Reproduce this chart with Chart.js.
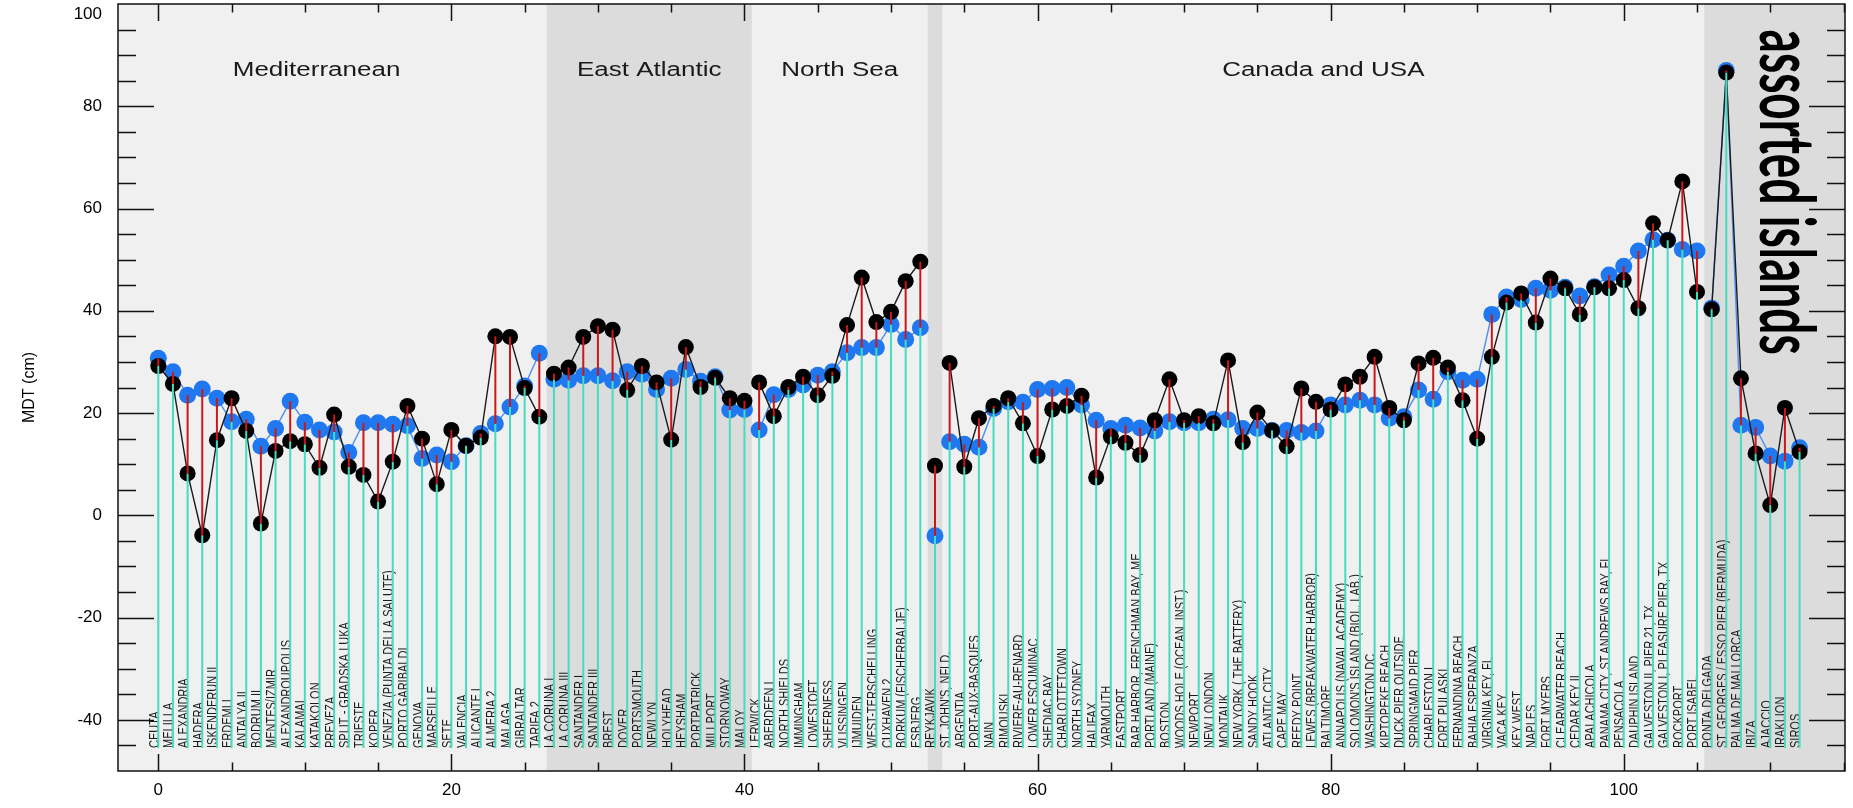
<!DOCTYPE html>
<html>
<head>
<meta charset="utf-8">
<script src="https://cdn.jsdelivr.net/npm/chart.js@4"></script>
<style>
  html, body { margin: 0; padding: 0; background: #ffffff; }
  canvas { display: block; }
</style>
</head>
<body>
<canvas id="mdt" width="1853" height="808"></canvas>
<script>
// Tide gauge stations, in plotting order (index = x value)
const stations = [
  'CEUTA', 'MELILLA', 'ALEXANDRIA', 'HADERA', 'ISKENDERUN II', 'ERDEMLI', 'ANTALYA II', 'BODRUM II',
  'MENTES/IZMIR', 'ALEXANDROUPOLIS', 'KALAMAI', 'KATAKOLON', 'PREVEZA', 'SPLIT - GRADSKA LUKA', 'TRIESTE',
  'KOPER', 'VENEZIA (PUNTA DELLA SALUTE)', 'PORTO GARIBALDI', 'GENOVA', 'MARSEILLE', 'SETE', 'VALENCIA',
  'ALICANTE I', 'ALMERIA 2', 'MALAGA', 'GIBRALTAR', 'TARIFA 2',
  'LA CORUNA I', 'LA CORUNA III', 'SANTANDER I', 'SANTANDER III', 'BREST', 'DOVER', 'PORTSMOUTH', 'NEWLYN',
  'HOLYHEAD', 'HEYSHAM', 'PORTPATRICK', 'MILLPORT', 'STORNOWAY', 'MALOY',
  'LERWICK', 'ABERDEEN I', 'NORTH SHIELDS', 'IMMINGHAM', 'LOWESTOFT', 'SHEERNESS', 'VLISSINGEN', 'IJMUIDEN',
  'WEST-TERSCHELLING', 'CUXHAVEN 2', 'BORKUM (FISCHERBALJE)', 'ESBJERG',
  'REYKJAVIK',
  "ST. JOHN'S, NFLD.", 'ARGENTIA', 'PORT-AUX-BASQUES', 'NAIN', 'RIMOUSKI', 'RIVIERE-AU-RENARD', 'LOWER ESCUMINAC',
  'SHEDIAC BAY', 'CHARLOTTETOWN', 'NORTH SYDNEY', 'HALIFAX', 'YARMOUTH', 'EASTPORT',
  'BAR HARBOR, FRENCHMAN BAY, ME', 'PORTLAND (MAINE)', 'BOSTON', 'WOODS HOLE (OCEAN. INST.)', 'NEWPORT',
  'NEW LONDON', 'MONTAUK', 'NEW YORK ( THE BATTERY)', 'SANDY HOOK', 'ATLANTIC CITY', 'CAPE MAY', 'REEDY POINT',
  'LEWES (BREAKWATER HARBOR)', 'BALTIMORE', 'ANNAPOLIS (NAVAL ACADEMY)', "SOLOMON'S ISLAND (BIOL. LAB.)",
  'WASHINGTON DC', 'KIPTOPEKE BEACH', 'DUCK PIER OUTSIDE', 'SPRINGMAID PIER', 'CHARLESTON I', 'FORT PULASKI',
  'FERNANDINA BEACH', 'BAHIA ESPERANZA', 'VIRGINIA KEY, FL', 'VACA KEY', 'KEY WEST', 'NAPLES', 'FORT MYERS',
  'CLEARWATER BEACH', 'CEDAR KEY II', 'APALACHICOLA', 'PANAMA CITY, ST.ANDREWS BAY, FL', 'PENSACOLA',
  'DAUPHIN ISLAND', 'GALVESTON II, PIER 21, TX', 'GALVESTON I, PLEASURE PIER, TX', 'ROCKPORT', 'PORT ISABEL',
  'PONTA DELGADA', 'ST. GEORGES / ESSO PIER (BERMUDA)', 'PALMA DE MALLORCA', 'IBIZA', 'AJACCIO', 'IRAKLION', 'SIROS'
];

// MDT (cm), blue series
const mdtBlue = [
  30.7, 28.1, 23.5, 24.7, 22.9, 18.3, 18.8, 13.5, 17.0, 22.3, 18.2, 16.7, 16.3, 12.3, 18.1, 18.1, 17.8, 17.5, 11.1, 11.8,
  10.5, 13.6, 16.0, 17.9, 21.2, 25.3, 31.7,
  26.6, 26.4, 27.3, 27.3, 26.3, 28.1, 27.6, 24.6, 26.8, 28.5, 26.2, 27.1, 20.6, 20.7,
  16.7, 23.6, 24.6, 25.5, 27.4, 28.1, 31.8, 32.8, 32.8, 37.3, 34.4, 36.7,
  -4.0,
  14.4, 13.9, 13.3, 20.9, 22.2, 22.1, 24.6, 24.8, 25.0, 21.6, 18.6, 17.0, 17.6, 17.1, 16.5, 18.3, 18.1, 18.1, 18.8,
  18.7, 17.0, 17.0, 16.6, 16.6, 16.2, 16.5, 21.6, 21.6, 22.5, 21.6, 19.0, 19.3, 24.5, 22.7, 28.1, 26.4, 26.6, 39.3,
  42.7, 42.2, 44.4, 44.0, 44.6, 42.9, 44.7, 47.0, 48.7, 51.7, 53.9, 53.8, 52.0, 51.7,
  40.5, 87.0, 17.6, 17.2, 11.6, 10.6, 13.2
];

// MDT (cm), black series
const mdtBlack = [
  29.2, 25.7, 8.2, -3.9, 14.7, 22.9, 16.5, -1.6, 12.6, 14.5, 13.9, 9.3, 19.7, 9.5, 7.9, 2.7, 10.5, 21.4, 15.0, 6.1,
  16.7, 13.6, 15.2, 35.0, 34.9, 24.9, 19.3,
  27.7, 28.9, 34.9, 37.0, 36.3, 24.5, 29.2, 26.0, 14.8, 32.9, 25.1, 26.9, 22.9, 22.4,
  26.0, 19.4, 25.1, 27.1, 23.5, 27.3, 37.2, 46.5, 37.8, 39.8, 45.8, 49.6,
  9.7,
  29.8, 9.5, 19.0, 21.4, 22.9, 18.0, 11.6, 20.7, 21.4, 23.4, 7.4, 15.4, 14.2, 11.8, 18.6, 26.6, 18.6, 19.4, 18.0,
  30.3, 14.3, 20.1, 16.6, 13.5, 24.8, 22.2, 20.7, 25.6, 27.1, 31.0, 21.0, 18.6, 29.7, 30.8, 28.9, 22.5, 15.0, 31.0,
  41.6, 43.4, 37.7, 46.3, 44.4, 39.3, 44.6, 44.4, 46.0, 40.5, 57.1, 53.8, 65.3, 43.7,
  40.3, 86.6, 26.8, 12.1, 2.0, 21.0, 12.4
];

// first station index of each connected group of stations
const segmentStarts = [0, 27, 41, 53, 54, 106];

// regions along the coastline
const regionNames   = ['Mediterranean', 'East Atlantic', 'North Sea', '', 'Canada and USA', 'assorted islands'];
const regionFrom    = [-2.75, 26.5, 40.5, 52.5, 53.5, 105.5];
const regionTo      = [26.5, 40.5, 52.5, 53.5, 105.5, 115.1];
const regionShaded  = [false, true, false, true, false, true];
const regionLabelX  = [10.8, 33.5, 46.5, null, 79.5, 109.3];

// axes
const xRange = [-2.75, 115.1];
const yRange = [-50, 100];
const xTicks = [0, 20, 40, 60, 80, 100];
const yTicks = [-40, -20, 0, 20, 40, 60, 80, 100];

const LABEL_BASE = -45.5;      // y value where station names start
const TITLE_Y = 87;            // y value of the region headings
const ISLANDS_TOP = 95.0;      // y value where the vertical heading starts

function withGaps(values) {
  const pts = [];
  values.forEach((v, i) => {
    if (i > 0 && segmentStarts.includes(i)) pts.push({ x: i - 0.5, y: null });
    pts.push({ x: i, y: v });
  });
  return pts;
}

const backgroundPlugin = {
  id: 'regionBackground',
  beforeDraw(chart) {
    const { ctx, chartArea: a, scales: { x } } = chart;
    ctx.save();
    ctx.fillStyle = '#f0f0f0';
    ctx.fillRect(a.left, a.top, a.right - a.left, a.bottom - a.top);
    ctx.fillStyle = '#dcdcdc';
    regionFrom.forEach((from, i) => {
      if (!regionShaded[i]) return;
      const x0 = Math.max(a.left, x.getPixelForValue(from));
      const x1 = Math.min(a.right, x.getPixelForValue(regionTo[i]));
      ctx.fillRect(x0, a.top, x1 - x0, a.bottom - a.top);
    });
    ctx.restore();
  }
};

const overlayPlugin = {
  id: 'stationOverlay',
  afterDatasetsDraw(chart) {
    const { ctx, chartArea: a, scales: { x, y } } = chart;
    ctx.save();
    ctx.beginPath();
    ctx.rect(a.left, a.top, a.right - a.left, a.bottom - a.top);
    ctx.clip();

    const yBase = y.getPixelForValue(LABEL_BASE);

    // station names, reading upwards, just left of each stem
    ctx.fillStyle = '#1c1c1c';
    ctx.font = '11px "Liberation Sans", Arial, sans-serif';
    ctx.textAlign = 'left';
    ctx.textBaseline = 'alphabetic';
    stations.forEach((name, i) => {
      ctx.save();
      ctx.translate(x.getPixelForValue(i) + 0.5, yBase);
      ctx.rotate(-Math.PI / 2);
      ctx.scale(1, 1.3);
      ctx.fillText(name, 0, 0);
      ctx.restore();
    });

    // stems: turquoise up to the lower value, red between the two values
    ctx.lineCap = 'butt';
    stations.forEach((_, i) => {
      const px = x.getPixelForValue(i);
      const lo = Math.min(mdtBlue[i], mdtBlack[i]);
      const hi = Math.max(mdtBlue[i], mdtBlack[i]);
      ctx.strokeStyle = '#45dcbf';
      ctx.lineWidth = 2;
      ctx.beginPath();
      ctx.moveTo(px, yBase);
      ctx.lineTo(px, y.getPixelForValue(lo));
      ctx.stroke();
      ctx.strokeStyle = '#cc1717';
      ctx.beginPath();
      ctx.moveTo(px, y.getPixelForValue(lo));
      ctx.lineTo(px, y.getPixelForValue(hi));
      ctx.stroke();
    });

    // region headings
    ctx.fillStyle = '#1a1a1a';
    ctx.font = '20px "Liberation Sans", Arial, sans-serif';
    ctx.textAlign = 'center';
    ctx.textBaseline = 'middle';
    const ty = y.getPixelForValue(TITLE_Y);
    regionNames.forEach((name, i) => {
      if (!name || i === regionNames.length - 1) return;
      ctx.save();
      ctx.translate(x.getPixelForValue(regionLabelX[i]), ty);
      ctx.scale(1.3, 1);
      ctx.fillText(name, 0, 0);
      ctx.restore();
    });

    // vertical heading of the last region
    const last = regionNames.length - 1;
    ctx.save();
    ctx.fillStyle = '#000000';
    ctx.font = 'bold 46px Lato, "Open Sans", sans-serif';
    ctx.textAlign = 'left';
    ctx.textBaseline = 'alphabetic';
    ctx.translate(x.getPixelForValue(regionLabelX[last]), y.getPixelForValue(ISLANDS_TOP));
    ctx.rotate(Math.PI / 2);
    ctx.scale(1, 1.65);
    ctx.fillText(regionNames[last], 0, 0);
    ctx.restore();

    ctx.restore();
  },
  afterDraw(chart) {
    const { ctx, chartArea: a, scales: { x, y } } = chart;
    ctx.save();
    ctx.strokeStyle = '#111111';
    ctx.lineWidth = 1.5;
    ctx.strokeRect(a.left, a.top, a.right - a.left, a.bottom - a.top);

    ctx.lineWidth = 1.5;
    ctx.beginPath();
    // y ticks every 5, long at the labelled values
    for (let v = yRange[0] + 5; v < yRange[1]; v += 5) {
      const py = Math.round(y.getPixelForValue(v)) + 0.5;
      const len = yTicks.includes(v) ? 36 : 18;
      ctx.moveTo(a.left, py); ctx.lineTo(a.left + len, py);
      ctx.moveTo(a.right, py); ctx.lineTo(a.right - len, py);
    }
    // x ticks every 5, long at the labelled values
    for (let v = 0; v < xRange[1]; v += 5) {
      const px = Math.round(x.getPixelForValue(v)) + 0.5;
      const len = xTicks.includes(v) ? 17 : 8.5;
      ctx.moveTo(px, a.bottom); ctx.lineTo(px, a.bottom - len);
      ctx.moveTo(px, a.top); ctx.lineTo(px, a.top + len);
    }
    ctx.stroke();
    ctx.restore();
  }
};

new Chart(document.getElementById('mdt'), {
  type: 'line',
  data: {
    datasets: [
      {
        label: 'black',
        data: withGaps(mdtBlack),
        borderColor: '#1a1a1a',
        borderWidth: 1.4,
        pointRadius: 8,
        pointBackgroundColor: '#000000',
        pointBorderWidth: 0,
        spanGaps: false,
        order: 1
      },
      {
        label: 'blue',
        data: withGaps(mdtBlue),
        borderColor: '#4a8ef2',
        borderWidth: 1.4,
        pointRadius: 8.5,
        pointBackgroundColor: '#1f78ef',
        pointBorderWidth: 0,
        spanGaps: false,
        order: 2
      }
    ]
  },
  options: {
    responsive: false,
    animation: false,
    devicePixelRatio: 1,
    layout: { padding: { left: 0, right: 8, top: 4, bottom: 0 }, autoPadding: false },
    plugins: { legend: { display: false }, tooltip: { enabled: false } },
    scales: {
      x: {
        type: 'linear',
        min: xRange[0],
        max: xRange[1],
        afterFit(s) { s.height = 37; s.paddingLeft = 0; s.paddingRight = 0; },
        afterBuildTicks(s) { s.ticks = xTicks.map(v => ({ value: v })); },
        grid: { display: false, drawTicks: false },
        border: { display: false },
        ticks: {
          color: '#000000',
          font: { family: '"Liberation Sans", Arial, sans-serif', size: 17 },
          padding: 9,
          maxRotation: 0
        }
      },
      y: {
        type: 'linear',
        min: yRange[0],
        max: yRange[1],
        afterFit(s) { s.width = 118; s.paddingTop = 0; s.paddingBottom = 0; },
        afterBuildTicks(s) { s.ticks = yTicks.map(v => ({ value: v })); },
        grid: { display: false, drawTicks: false },
        border: { display: false },
        ticks: {
          color: '#000000',
          font: { family: '"Liberation Sans", Arial, sans-serif', size: 17 },
          padding: 16,
          callback: v => (v === yRange[1] ? ['', String(v)] : String(v))
        },
        title: {
          display: true,
          text: 'MDT (cm)',
          color: '#000000',
          font: { family: '"Liberation Sans", Arial, sans-serif', size: 16 },
          padding: { top: 20, bottom: 0 }
        }
      }
    }
  },
  plugins: [backgroundPlugin, overlayPlugin]
});
</script>
</body>
</html>
